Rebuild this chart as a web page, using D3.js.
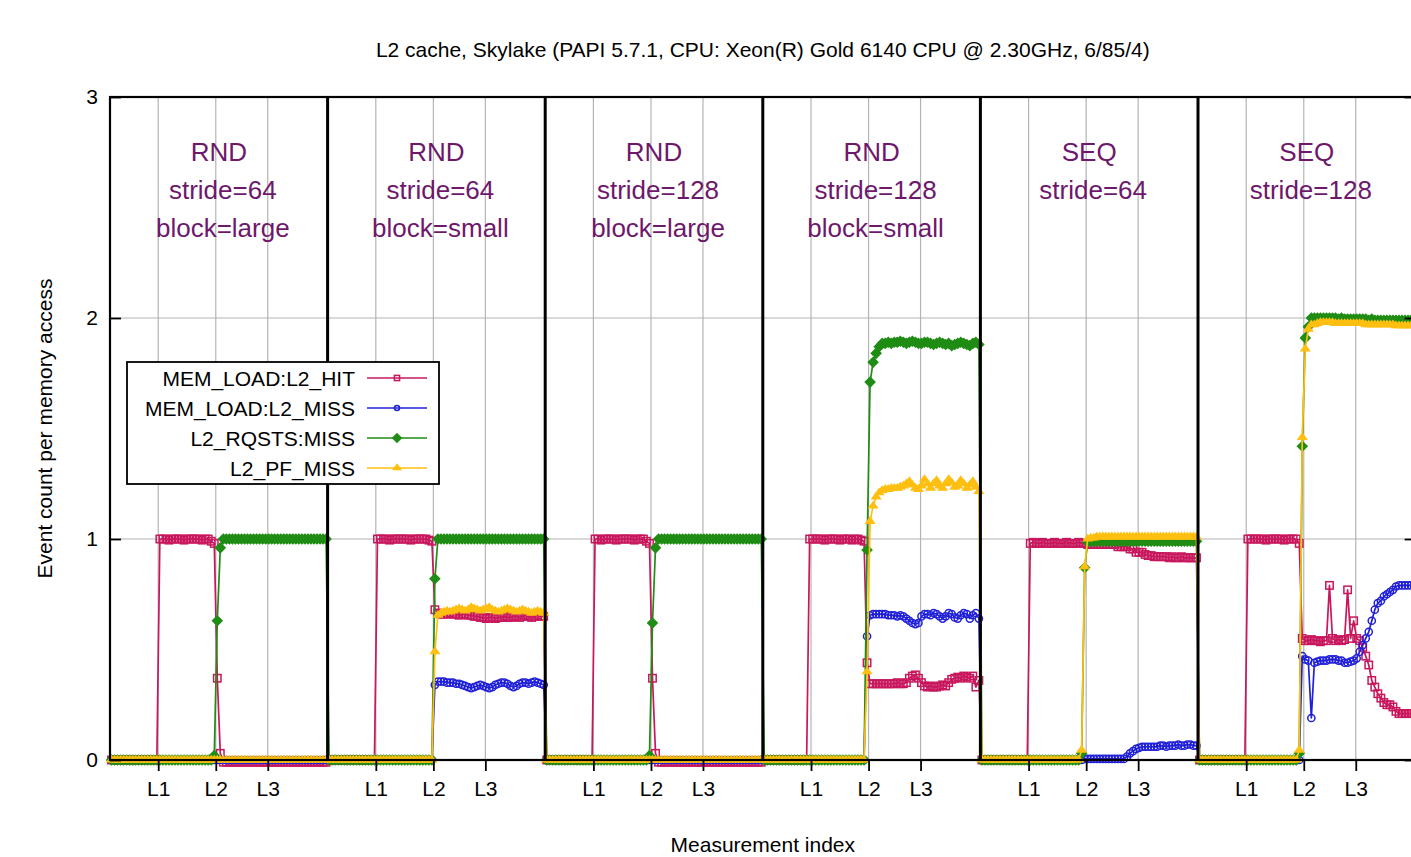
<!DOCTYPE html>
<html>
<head>
<meta charset="utf-8">
<script src="https://cdn.jsdelivr.net/npm/d3@7"></script>
<style>
  body { margin: 0; background: #fff; }
  svg { display: block; }
  text { font-family: "Liberation Sans", Arial, Helvetica, sans-serif; }
</style>
</head>
<body>
<svg id="chart" width="1411" height="857"></svg>
<script>
// ---- chart text ----
const chartTitle = "L2 cache, Skylake (PAPI 5.7.1, CPU: Xeon(R) Gold 6140 CPU @ 2.30GHz, 6/85/4)";
const xAxisTitle = "Measurement index";
const yAxisTitle = "Event count per memory access";

// ---- panels (one benchmark configuration each) ----
const panelTitles = [
  ["RND", "stride=64", "block=large"],
  ["RND", "stride=64", "block=small"],
  ["RND", "stride=128", "block=large"],
  ["RND", "stride=128", "block=small"],
  ["SEQ", "stride=64"],
  ["SEQ", "stride=128"]
];
const samplesPerPanel = 72;
const levelLabels = ["L1", "L2", "L3"];
const levelIndex = [15.45, 34.5, 51.7];   // measurement index inside a panel
const yTickValues = [0, 1, 2, 3];

const seriesNames = ["MEM_LOAD:L2_HIT", "MEM_LOAD:L2_MISS", "L2_RQSTS:MISS", "L2_PF_MISS"];
const seriesColors = ["#c8175d", "#2020d8", "#1f8c14", "#ffbf10"];
const seriesMarkers = ["square", "circle", "diamond", "triangle"];

// ---- MEM_LOAD:L2_HIT ----
const hitP1 = [0,0,0,0,0,0,0,0, 0,0,0,0,0,0,0,0,
  1,1,1,0.995,1,1,1,1,0.995,1,1,1,1,1,0.995,1,1,0.99,0.98,
  0.37,0.03,
  -0.01,-0.01,-0.01,-0.01,-0.01, -0.01,-0.01,-0.01,-0.01,-0.01, -0.01,-0.01,-0.01,-0.01,-0.01,
  -0.01,-0.01,-0.01,-0.01,-0.01, -0.01,-0.01,-0.01,-0.01,-0.01, -0.01,-0.01,-0.01,-0.01,-0.01,
  -0.01,-0.01,-0.01,-0.01,-0.01];
const hitP2 = [0,0,0,0,0,0,0,0, 0,0,0,0,0,0,0,0,
  1,1,1,1,0.995,1,1,1,1,1,1,0.995,1,1,1,1,1,0.995,0.99,
  0.68,
  0.665,0.66,0.66,0.66,0.665,0.66,0.66,0.655,0.66,0.66,0.655,0.655,
  0.65,0.65,0.645,0.645,0.64,0.645,0.645,0.64,0.645,0.645,0.65,0.645,
  0.645,0.65,0.65,0.645,0.65,0.655,0.65,0.645,0.65,0.655,0.65,0.65];
const hitP3 = [0,0,0,0,0,0,0,0, 0,0,0,0,0,0,0,0,
  1,1,0.995,1,1,1,1,0.995,1,1,1,1,1,0.995,1,1,1,0.99,0.98,
  0.37,0.03,
  -0.01,-0.01,-0.01,-0.01,-0.01, -0.01,-0.01,-0.01,-0.01,-0.01, -0.01,-0.01,-0.01,-0.01,-0.01,
  -0.01,-0.01,-0.01,-0.01,-0.01, -0.01,-0.01,-0.01,-0.01,-0.01, -0.01,-0.01,-0.01,-0.01,-0.01,
  -0.01,-0.01,-0.01,-0.01,-0.01];
const hitP4 = [0,0,0,0,0,0,0,0, 0,0,0,0,0,0,0,
  1,1,1,1,1,0.995,1,1,1,1,0.995,1,1,1,0.995,1,1,0.995,0.99,
  0.44,
  0.345,0.345,0.345,0.345,0.345,0.345,0.345,0.345,0.345,0.35,0.345,0.345,
  0.35,0.37,0.38,0.385,0.37,0.35,0.335,0.33,0.335,0.33,0.33,0.335,0.34,
  0.335,0.35,0.365,0.37,0.375,0.37,0.38,0.375,0.37,0.38,0.33,0.36];
const hitP5 = [0,0,0,0,0,0,0,0, 0,0,0,0,0,0,0,0,
  0.98,0.985,0.98,0.98,0.985,0.98,0.98,0.98,0.985,0.98,0.98,0.98,0.985,0.98,0.98,0.98,0.985,0.98,0.98,
  0.975,0.975,0.975,0.975,0.975,0.975,0.975,0.975,0.975,0.975,
  0.965,0.965,0.965,0.965,
  0.955,0.955,
  0.94,0.94,0.94,
  0.93,0.925,0.925,0.92,0.92,0.92,0.92,0.92,0.915,0.92,0.915,0.915,0.92,0.915,0.915,0.915,0.915,0.915];
const hitP6 = [0,0,0,0,0,0,0,0, 0,0,0,0,0,0,0,0,
  1,1,1,1,1,1,0.995,1,1,1,1,1,0.995,1,1,1,1,
  0.98,
  0.55,0.54,0.54,0.545,0.54,0.54,0.535,0.54,0.54,
  0.79,0.55,
  0.54,0.545,0.54,0.545,
  0.77,0.55,0.63,0.55,0.54,
  0.51,0.47,0.43,0.36,0.33,0.30,0.28,0.26,0.25,0.25,0.24,0.22,
  0.21,0.21,0.21,0.21,0.21,0.21];

// ---- MEM_LOAD:L2_MISS ----
const missP1 = [0,0,0,0,0,0,0,0, 0,0,0,0,0,0,0,0, 0,0,0,0,0,0,0,0, 0,0,0,0,0,0,0,0,
  0,0,0,0,0,0,0,0, 0,0,0,0,0,0,0,0, 0,0,0,0,0,0,0,0, 0,0,0,0,0,0,0,0, 0,0,0,0,0,0,0,0];
const missP2 = [0,0,0,0,0,0,0,0, 0,0,0,0,0,0,0,0, 0,0,0,0,0,0,0,0, 0,0,0,0,0,0,0,0, 0,0,0,
  0.34,
  0.355,0.355,0.355,0.35,0.35,0.35,0.345,0.345,0.34,0.335,0.33,0.325,
  0.33,0.335,0.34,0.335,0.33,0.325,0.33,0.34,0.345,0.35,0.35,0.345,
  0.335,0.33,0.335,0.345,0.35,0.35,0.345,0.35,0.355,0.35,0.345,0.34];
const missP3 = [0,0,0,0,0,0,0,0, 0,0,0,0,0,0,0,0, 0,0,0,0,0,0,0,0, 0,0,0,0,0,0,0,0,
  0,0,0,0,0,0,0,0, 0,0,0,0,0,0,0,0, 0,0,0,0,0,0,0,0, 0,0,0,0,0,0,0,0, 0,0,0,0,0,0,0,0];
const missP4 = [0,0,0,0,0,0,0,0, 0,0,0,0,0,0,0,0, 0,0,0,0,0,0,0,0, 0,0,0,0,0,0,0,0, 0,0,
  0.56,
  0.655,0.66,0.66,0.66,0.66,0.66,0.655,0.655,0.655,0.65,0.655,0.65,0.64,
  0.63,0.62,0.615,0.62,0.65,0.66,0.66,0.655,0.665,0.66,0.65,0.64,
  0.65,0.665,0.66,0.645,0.64,0.655,0.665,0.66,0.64,0.655,0.665,0.64];
const missP5 = [0,0,0,0,0,0,0,0, 0,0,0,0,0,0,0,0, 0,0,0,0,0,0,0,0, 0,0,0,0,0,0,0,0, 0,0,
  0.005,0.005,0.005,0.005,0.005,0.005,0.005,0.005,0.005,0.005,0.005,0.005,0.005,0.005,
  0.015,0.03,0.04,0.05,0.055,0.06,
  0.06,0.06,0.06,0.06,0.06,0.065,0.065,0.06,0.065,0.065,0.065,0.07,0.065,0.065,0.07,0.07,0.065,0.065];
const missP6 = [0,0,0,0,0,0,0,0, 0,0,0,0,0,0,0,0, 0,0,0,0,0,0,0,0, 0,0,0,0,0,0,0,0, 0,0,
  0.47,0.455,0.45,0.19,0.44,
  0.445,0.45,0.45,0.45,0.455,0.455,0.455,0.45,0.45,0.44,0.44,0.445,0.45,
  0.46,0.49,0.52,0.55,0.58,0.63,0.68,0.71,0.72,0.74,0.75,0.76,0.77,0.785,
  0.79,0.79,0.79,0.79,0.79,0.79];

// ---- L2_RQSTS:MISS ----
const rqP1 = [0,0,0,0,0,0,0,0, 0,0,0,0,0,0,0,0, 0,0,0,0,0,0,0,0, 0,0,0,0,0,0,0,0, 0,0,
  0.02,0.63,0.96,
  1,1,1,1,1,1,1,1, 1,1,1,1,1,1,1,1, 1,1,1,1,1,1,1,1, 1,1,1,1,1,1,1,1, 1,1,1];
const rqP2 = [0,0,0,0,0,0,0,0, 0,0,0,0,0,0,0,0, 0,0,0,0,0,0,0,0, 0,0,0,0,0,0,0,0, 0,0,0,
  0.82,
  1,1,1,1,1,1,1,1, 1,1,1,1,1,1,1,1, 1,1,1,1,1,1,1,1, 1,1,1,1,1,1,1,1, 1,1,1,1];
const rqP3 = [0,0,0,0,0,0,0,0, 0,0,0,0,0,0,0,0, 0,0,0,0,0,0,0,0, 0,0,0,0,0,0,0,0, 0,0,
  0.02,0.62,0.96,
  1,1,1,1,1,1,1,1, 1,1,1,1,1,1,1,1, 1,1,1,1,1,1,1,1, 1,1,1,1,1,1,1,1, 1,1,1];
const rqP4 = [0,0,0,0,0,0,0,0, 0,0,0,0,0,0,0,0, 0,0,0,0,0,0,0,0, 0,0,0,0,0,0,0,0, 0,0,
  0.95,1.71,1.80,1.84,1.87,
  1.885,1.885,1.89,1.885,1.89,1.89,1.895,1.89,1.885,1.89,1.895,
  1.89,1.885,1.885,1.89,1.89,1.885,1.88,1.885,1.89,1.885,1.88,
  1.885,1.875,1.88,1.885,1.89,1.885,1.88,1.875,1.885,1.89,1.88];
const rqP5 = [0,0,0,0,0,0,0,0, 0,0,0,0,0,0,0,0, 0,0,0,0,0,0,0,0, 0,0,0,0,0,0,0,0, 0,
  0.03,0.87,0.985,
  0.99,0.99,0.99,0.99,0.99,0.99,0.99,0.99,0.99,0.99,0.99,0.99,
  0.99,0.99,0.99,0.99,0.99,0.99,0.99,0.99,0.99,0.99,0.99,0.99,
  0.99,0.99,0.99,0.99,0.99,0.99,0.99,0.99,0.99,0.99,0.99,0.99];
const rqP6 = [0,0,0,0,0,0,0,0, 0,0,0,0,0,0,0,0, 0,0,0,0,0,0,0,0, 0,0,0,0,0,0,0,0, 0,
  0.03,1.42,1.91,1.96,
  2,2,2,2,2,2,2,2,2,1.995,2,1.995,
  1.995,1.995,1.995,1.995,1.995,1.995,1.995,1.99,1.995,1.99,1.99,1.99,
  1.99,1.99,1.99,1.99,1.99,1.99,1.99,1.99,1.99,1.99,1.99];

// ---- L2_PF_MISS ----
const pfP1 = [0,0,0,0,0,0,0,0, 0,0,0,0,0,0,0,0, 0,0,0,0,0,0,0,0, 0,0,0,0,0,0,0,0,
  0,0,0,0,0,0,0,0, 0,0,0,0,0,0,0,0, 0,0,0,0,0,0,0,0, 0,0,0,0,0,0,0,0, 0,0,0,0,0,0,0,0];
const pfP2 = [0,0,0,0,0,0,0,0, 0,0,0,0,0,0,0,0, 0,0,0,0,0,0,0,0, 0,0,0,0,0,0,0,0, 0,0,0,
  0.49,
  0.655,0.665,0.67,0.675,0.67,0.675,0.68,0.685,0.68,0.675,0.68,0.69,
  0.685,0.68,0.675,0.68,0.685,0.69,0.68,0.675,0.67,0.675,0.68,0.685,
  0.68,0.675,0.67,0.675,0.68,0.675,0.67,0.665,0.67,0.675,0.67,0.665];
const pfP3 = [0,0,0,0,0,0,0,0, 0,0,0,0,0,0,0,0, 0,0,0,0,0,0,0,0, 0,0,0,0,0,0,0,0,
  0,0,0,0,0,0,0,0, 0,0,0,0,0,0,0,0, 0,0,0,0,0,0,0,0, 0,0,0,0,0,0,0,0, 0,0,0,0,0,0,0,0];
const pfP4 = [0,0,0,0,0,0,0,0, 0,0,0,0,0,0,0,0, 0,0,0,0,0,0,0,0, 0,0,0,0,0,0,0,0, 0,0,
  0.40,1.08,1.15,1.19,1.21,
  1.22,1.225,1.225,1.23,1.23,1.23,1.235,1.24,1.25,1.26,1.245,
  1.23,1.225,1.24,1.27,1.25,1.23,1.25,1.265,1.24,1.23,1.25,
  1.27,1.255,1.235,1.24,1.265,1.25,1.23,1.245,1.26,1.235,1.215];
const pfP5 = [0,0,0,0,0,0,0,0, 0,0,0,0,0,0,0,0, 0,0,0,0,0,0,0,0, 0,0,0,0,0,0,0,0, 0,
  0.045,0.875,1.0,
  1.005,1.005,1.01,1.01,1.01,1.01,1.01,1.01,1.01,1.01,1.01,1.01,
  1.01,1.01,1.01,1.01,1.01,1.01,1.01,1.01,1.01,1.01,1.01,1.01,
  1.01,1.01,1.01,1.01,1.01,1.01,1.01,1.01,1.01,1.01,1.01,1.01];
const pfP6 = [0,0,0,0,0,0,0,0, 0,0,0,0,0,0,0,0, 0,0,0,0,0,0,0,0, 0,0,0,0,0,0,0,0, 0,
  0.045,1.46,1.86,1.95,
  1.97,1.97,1.975,1.98,1.98,1.98,1.98,1.98,1.975,1.975,1.975,1.975,
  1.975,1.975,1.975,1.975,1.975,1.975,1.97,1.97,1.97,1.97,1.97,1.97,
  1.97,1.97,1.97,1.97,1.965,1.965,1.965,1.965,1.965,1.965,1.965];

const seriesPanels = [
  [hitP1, hitP2, hitP3, hitP4, hitP5, hitP6],
  [missP1, missP2, missP3, missP4, missP5, missP6],
  [rqP1, rqP2, rqP3, rqP4, rqP5, rqP6],
  [pfP1, pfP2, pfP3, pfP4, pfP5, pfP6]
];
seriesPanels.forEach((panels, s) => panels.forEach((arr, p) => {
  if (arr.length !== samplesPerPanel) throw new Error(`${seriesNames[s]} panel ${p + 1}: ${arr.length} samples`);
}));

// ---- layout ----
const svg = d3.select("#chart");
const plot = { left: 110, right: 1415.6, top: 97, bottom: 760 };
const nPanels = panelTitles.length;
const nTotal = nPanels * samplesPerPanel;

const x = d3.scaleLinear().domain([-0.5, nTotal - 0.5]).range([plot.left, plot.right]);
const y = d3.scaleLinear().domain([0, 3]).range([plot.bottom, plot.top]);

const fontSize = 21;
const gridColor = "#b4b4b4";

// global tick positions for the level markers
const levelTicks = [];
panelTitles.forEach((_, p) => levelIndex.forEach((v, k) =>
  levelTicks.push({ pos: p * samplesPerPanel + v, label: levelLabels[k] })));

// ---- grid ----
const grid = svg.append("g");
grid.selectAll("line.h").data(yTickValues.filter(v => v > 0 && v < 3)).join("line")
  .attr("x1", plot.left).attr("x2", plot.right)
  .attr("y1", d => y(d)).attr("y2", d => y(d))
  .attr("stroke", gridColor).attr("stroke-width", 1.2);
grid.selectAll("line.v").data(levelTicks).join("line")
  .attr("x1", d => x(d.pos)).attr("x2", d => x(d.pos))
  .attr("y1", plot.top).attr("y2", plot.bottom)
  .attr("stroke", gridColor).attr("stroke-width", 1.2);

// ---- panel captions ----
const captionColor = "#6e186c";
panelTitles.forEach((lines, p) => {
  const cx = x(p * samplesPerPanel + samplesPerPanel / 2 - 0.5);
  lines.forEach((t, k) => {
    svg.append("text")
      .attr("x", cx + (k === 0 ? 0 : 4)).attr("y", 161 + k * 38)
      .attr("text-anchor", "middle")
      .attr("font-size", 26).attr("fill", captionColor)
      .text(t);
  });
});

// ---- markers ----
function drawMarker(sel, kind, color, scale) {
  const s = scale || 1;
  if (kind === "square") {
    sel.append("rect").attr("x", -3.7 * s).attr("y", -3.7 * s)
      .attr("width", 7.4 * s).attr("height", 7.4 * s)
      .attr("fill", "none").attr("stroke", color).attr("stroke-width", 1.5);
  } else if (kind === "circle") {
    sel.append("circle").attr("r", 3.6 * s)
      .attr("fill", "none").attr("stroke", color).attr("stroke-width", 1.5);
  } else if (kind === "diamond") {
    sel.append("path").attr("d", `M0,${-5.8 * s}L${5.8 * s},0L0,${5.8 * s}L${-5.8 * s},0Z`)
      .attr("fill", color);
  } else {
    sel.append("path").attr("d", `M0,${-5.2 * s}L${5.6 * s},${2.6 * s}L${-5.6 * s},${2.6 * s}Z`)
      .attr("fill", color);
  }
}

// ---- series ----
const line = d3.line().x(d => x(d.i)).y(d => y(d.v));
seriesPanels.forEach((panels, s) => {
  const values = [].concat(...panels);
  const pts = values.map((v, i) => ({ i, v }));
  const g = svg.append("g");
  g.append("path").datum(pts)
    .attr("d", line).attr("fill", "none")
    .attr("stroke", seriesColors[s]).attr("stroke-width", 1.7)
    .attr("stroke-linejoin", "round");
  g.selectAll("g.pt").data(pts).join("g")
    .attr("transform", d => `translate(${x(d.i)},${y(d.v)})`)
    .each(function () { drawMarker(d3.select(this), seriesMarkers[s], seriesColors[s]); });
});

// ---- panel separators ----
svg.selectAll("line.sep").data(d3.range(1, nPanels)).join("line")
  .attr("x1", p => x(p * samplesPerPanel - 0.5)).attr("x2", p => x(p * samplesPerPanel - 0.5))
  .attr("y1", plot.top).attr("y2", plot.bottom)
  .attr("stroke", "#000").attr("stroke-width", 3);

// ---- border ----
svg.append("rect")
  .attr("x", plot.left).attr("y", plot.top)
  .attr("width", plot.right - plot.left).attr("height", plot.bottom - plot.top)
  .attr("fill", "none").attr("stroke", "#000").attr("stroke-width", 2.2);

// ---- axes ----
const xAxis = d3.axisBottom(x)
  .tickValues(levelTicks.map(d => d.pos))
  .tickFormat((d, i) => levelTicks[i].label)
  .tickSize(11).tickPadding(10);
const gx = svg.append("g").attr("transform", `translate(0,${plot.bottom})`).call(xAxis);

const yAxis = d3.axisLeft(y).tickValues(yTickValues).tickFormat(d3.format("d"))
  .tickSize(-11).tickPadding(12);
const gy = svg.append("g").attr("transform", `translate(${plot.left},0)`).call(yAxis);

const yAxisR = d3.axisRight(y).tickValues(yTickValues).tickFormat("").tickSize(-11);
const gyr = svg.append("g").attr("transform", `translate(${plot.right},0)`).call(yAxisR);

[gx, gy, gyr].forEach(g => {
  g.select(".domain").remove();
  g.selectAll(".tick line").attr("stroke", "#000").attr("stroke-width", 1.8);
  g.selectAll(".tick text").attr("font-size", fontSize).attr("fill", "#000")
    .attr("font-family", '"Liberation Sans", Arial, sans-serif');
});

// ---- titles ----
svg.append("text").attr("x", (plot.left + plot.right) / 2).attr("y", 57)
  .attr("text-anchor", "middle").attr("font-size", fontSize).text(chartTitle);
svg.append("text").attr("x", (plot.left + plot.right) / 2).attr("y", 852)
  .attr("text-anchor", "middle").attr("font-size", fontSize).text(xAxisTitle);
svg.append("text")
  .attr("transform", `translate(52,${(plot.top + plot.bottom) / 2}) rotate(-90)`)
  .attr("text-anchor", "middle").attr("font-size", fontSize).text(yAxisTitle);

// ---- legend ----
const legend = svg.append("g");
legend.append("rect").attr("x", 127).attr("y", 362).attr("width", 312).attr("height", 122)
  .attr("fill", "#fff").attr("stroke", "#000").attr("stroke-width", 1.8);
seriesNames.forEach((name, s) => {
  const cy = 378 + s * 30;
  legend.append("text").attr("x", 355).attr("y", cy + 7.5)
    .attr("text-anchor", "end").attr("font-size", fontSize).text(name);
  legend.append("line").attr("x1", 367).attr("x2", 427).attr("y1", cy).attr("y2", cy)
    .attr("stroke", seriesColors[s]).attr("stroke-width", 1.7);
  const m = legend.append("g").attr("transform", `translate(397,${cy})`);
  drawMarker(m, seriesMarkers[s], seriesColors[s], s < 2 ? 0.7 : 0.9);
});
</script>
</body>
</html>
